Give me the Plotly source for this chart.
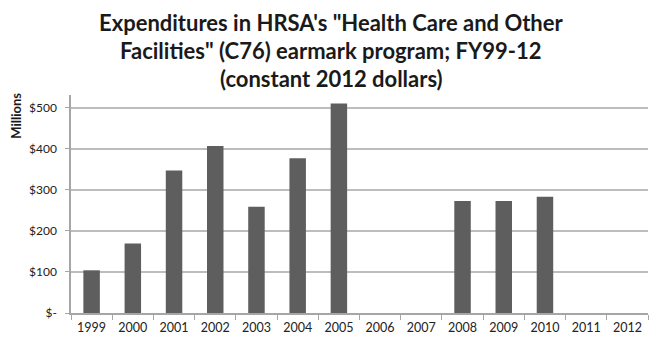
import plotly.graph_objects as go

years = ["1999", "2000", "2001", "2002", "2003", "2004", "2005",
         "2006", "2007", "2008", "2009", "2010", "2011", "2012"]
spending = [104, 169, 347, 407, 259, 377, 510,
            None, None, 273, 273, 283, None, None]
ytick_vals = [0, 100, 200, 300, 400, 500]
ytick_text = ["$-", "$100", "$200", "$300", "$400", "$500"]
title_lines = ["Expenditures in HRSA's \"Health Care and Other",
               "Facilities\" (C76) earmark program; FY99-12",
               "(constant 2012 dollars)"]

FONT = "Lato, 'Open Sans', sans-serif"

fig = go.Figure(go.Bar(
    x=years, y=spending,
    marker=dict(color="#5e5e5e", line=dict(width=0)),
    width=0.4,
    hoverinfo="skip",
))

fig.update_layout(
    width=653, height=340,
    margin=dict(l=71, r=5, t=95, b=25),
    paper_bgcolor="white", plot_bgcolor="white",
    font=dict(family=FONT, color="#222222", size=12),
    showlegend=False,
)

fig.update_xaxes(
    type="category",
    showline=True, linecolor="#a6a6a6", linewidth=1.5,
    ticks="outside", tickson="boundaries", ticklen=5, tickcolor="#a6a6a6",
    showgrid=False,
    ticklabelstandoff=2,
    tickfont=dict(size=12.5, color="#222222"),
)
fig.update_yaxes(
    range=[0, 531],
    tickvals=ytick_vals, ticktext=ytick_text,
    showline=True, linecolor="#a6a6a6", linewidth=1.5,
    showgrid=True, gridcolor="#bdbdbd", gridwidth=1.5,
    ticks="outside", ticklen=4, tickcolor="#a6a6a6",
    zeroline=False,
    ticklabelstandoff=6,
    tickfont=dict(size=12, color="#222222"),
)

# title lines, centred at pixel rows 22, 50, 78
for line, ypix in zip(title_lines, [22, 50, 78]):
    fig.add_annotation(
        text=f"<b>{line}</b>",
        xref="paper", yref="paper",
        x=(331 - 71) / 577, y=1 + (95 - ypix) / 220,
        xanchor="center", yanchor="middle", showarrow=False,
        font=dict(size=22, color="#1a1a1a", family=FONT),
    )

fig.add_annotation(
    text="<b>Millions</b>", textangle=-90,
    xref="paper", yref="paper", x=(16 - 71) / 577, y=1 - (116 - 95) / 220,
    xanchor="center", yanchor="middle", showarrow=False,
    font=dict(size=13, color="#1a1a1a"),
)

fig.write_html(
    "out.html",
    config={"displayModeBar": False},
    post_script="document.body.style.margin='0';document.body.style.overflow='hidden';",
)
